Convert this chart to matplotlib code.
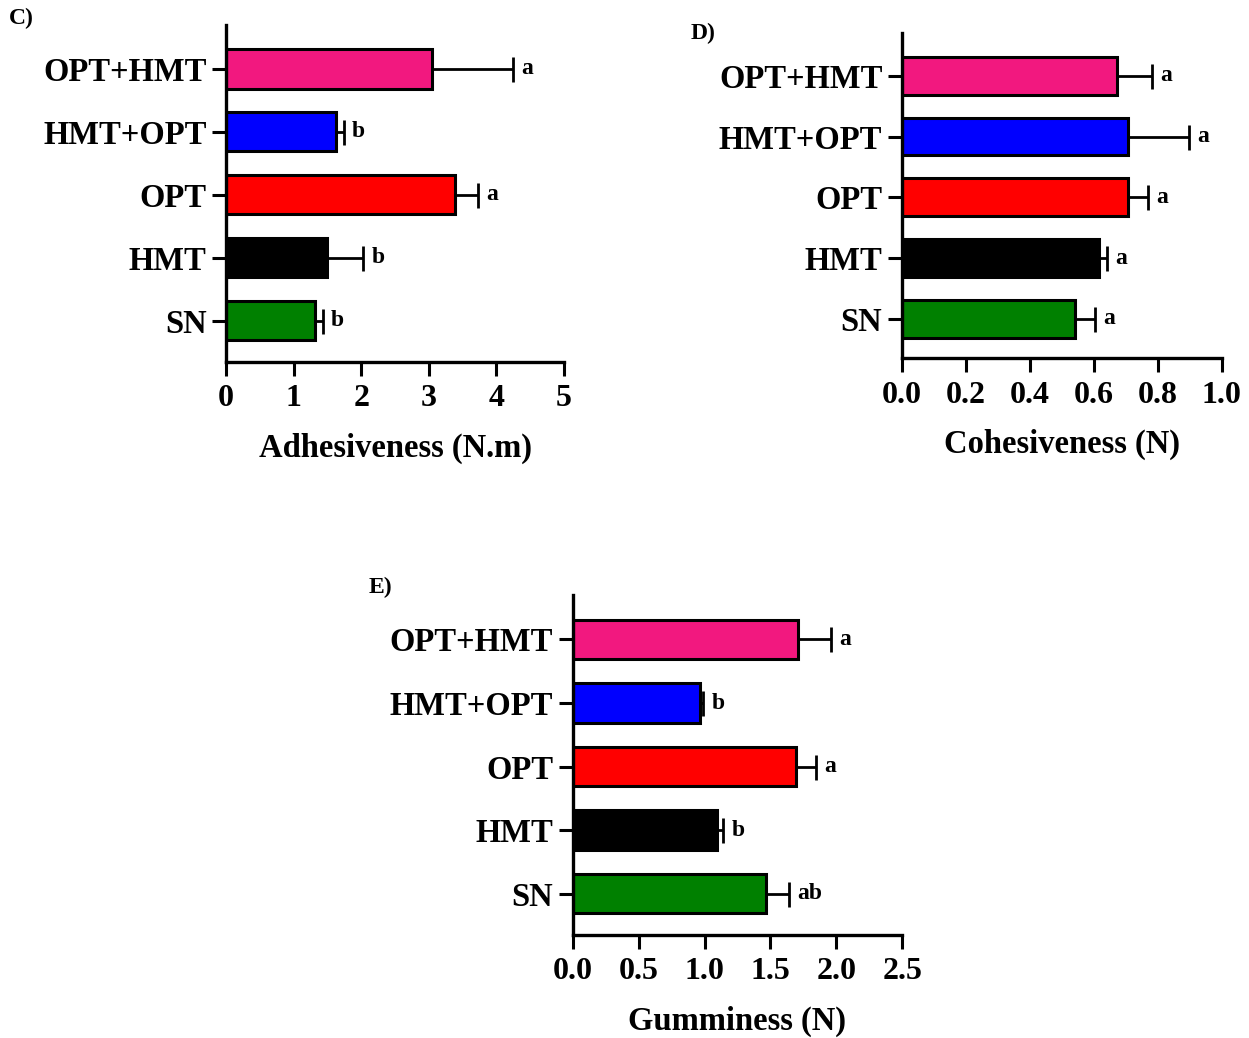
import matplotlib
matplotlib.use("Agg")
import matplotlib.pyplot as plt

plt.rcParams['font.family'] = ['Liberation Serif', 'DejaVu Serif']
plt.rcParams['font.weight'] = 'bold'

# treatments, bottom to top
groups = ["SN", "HMT", "OPT", "HMT+OPT", "OPT+HMT"]
bar_colors = ["#008000", "#000000", "#FF0000", "#0000FF", "#F2187F"]

adhesiveness = [1.31, 1.49, 3.38, 1.63, 3.05]
adhesiveness_sd = [0.12, 0.54, 0.34, 0.11, 1.20]
adhesiveness_sig = ["b", "b", "a", "b", "a"]

cohesiveness = [0.541, 0.618, 0.707, 0.707, 0.672]
cohesiveness_sd = [0.063, 0.023, 0.064, 0.19, 0.11]
cohesiveness_sig = ["a", "a", "a", "a", "a"]

gumminess = [1.467, 1.092, 1.692, 0.966, 1.712]
gumminess_sd = [0.176, 0.05, 0.15, 0.025, 0.245]
gumminess_sig = ["ab", "b", "a", "b", "a"]

adh_ticks = [0, 1, 2, 3, 4, 5]
coh_ticks = [0.0, 0.2, 0.4, 0.6, 0.8, 1.0]
gum_ticks = [0.0, 0.5, 1.0, 1.5, 2.0, 2.5]


def panel(rect, vals, sds, sig, ticks, fmt, xlabel, tag, tag_xy):
    ax = fig.add_axes(rect)
    pos = range(len(groups))
    ax.barh(pos, vals, height=0.62, color=bar_colors, edgecolor="black",
            linewidth=2.2, zorder=2)
    ax.errorbar(vals, pos, xerr=[[0] * len(sds), sds], fmt="none",
                ecolor="black", elinewidth=2.0, capsize=9, capthick=2.0,
                zorder=1)
    for p, v, s, t in zip(pos, vals, sds, sig):
        ax.annotate(t, (v + s, p), xytext=(6, 0), textcoords="offset points",
                    va="center", ha="left", fontsize=17, fontweight="bold")
    ax.set_xlim(ticks[0], ticks[-1])
    ax.set_ylim(-0.65, 4.7)
    ax.set_xticks(ticks)
    ax.set_xticklabels([fmt.format(t) for t in ticks])
    ax.set_yticks(list(pos))
    ax.set_yticklabels(groups)
    ax.tick_params(axis="y", length=10, width=2.2, labelsize=23.5, pad=4)
    ax.tick_params(axis="x", length=10, width=2.2, labelsize=23, pad=6)
    for side in ("top", "right"):
        ax.spines[side].set_visible(False)
    for side in ("left", "bottom"):
        ax.spines[side].set_linewidth(2.4)
    ax.set_xlabel(xlabel, fontsize=23.5, fontweight="bold", labelpad=14)
    fig.text(tag_xy[0], tag_xy[1], tag, fontsize=17, fontweight="bold",
             ha="left", va="center")
    return ax


fig = plt.figure(figsize=(12.49, 10.38), dpi=100)

panel([0.181, 0.6515, 0.2706, 0.3245], adhesiveness, adhesiveness_sd,
      adhesiveness_sig, adh_ticks, "{:d}", "Adhesiveness (N.m)", "C)",
      (0.007, 0.982))
panel([0.722, 0.6548, 0.256, 0.3132], cohesiveness, cohesiveness_sd,
      cohesiveness_sig, coh_ticks, "{:.1f}", "Cohesiveness (N)", "D)",
      (0.553, 0.968))
panel([0.4585, 0.0992, 0.2639, 0.3276], gumminess, gumminess_sd,
      gumminess_sig, gum_ticks, "{:.1f}", "Gumminess (N)", "E)",
      (0.295, 0.434))

fig.savefig("out.png", dpi=100)
